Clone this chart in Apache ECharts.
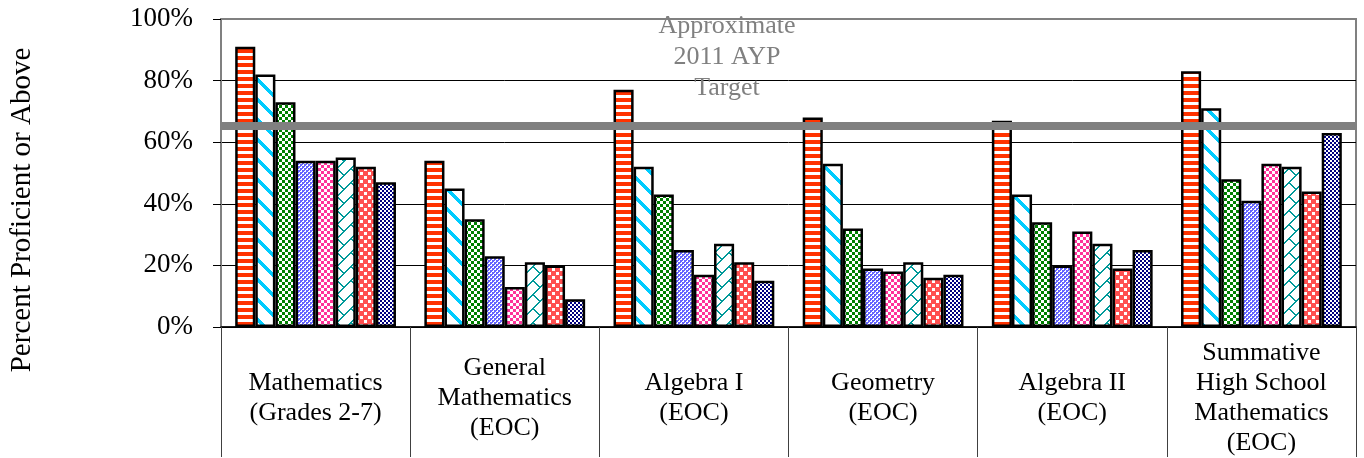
<!DOCTYPE html>
<html>
<head>
<meta charset="utf-8">
<title>Percent Proficient or Above</title>
<script src="https://cdn.jsdelivr.net/npm/echarts@6/dist/echarts.min.js"></script>
<style>
  html, body { margin: 0; padding: 0; background: #fff; }
  #chart { width: 1364px; height: 458px; }
</style>
</head>
<body>
<div id="chart"></div>
<script>
// categories and values
const categories = [
  'Mathematics\n(Grades 2-7)',
  'General\nMathematics\n(EOC)',
  'Algebra I\n(EOC)',
  'Geometry\n(EOC)',
  'Algebra II\n(EOC)',
  'Summative\nHigh School\nMathematics\n(EOC)'
];
const group1 = [91, 54, 77, 68, 67, 83];
const group2 = [82, 45, 52, 53, 43, 71];
const group3 = [73, 35, 43, 32, 34, 48];
const group4 = [54, 23, 25, 19, 20, 41];
const group5 = [54, 13, 17, 18, 31, 53];
const group6 = [55, 21, 27, 21, 27, 52];
const group7 = [52, 20, 21, 16, 19, 44];
const group8 = [47, 9, 15, 17, 25, 63];
const aypTarget = 65.5;
const aypLabel = 'Approximate\n2011 AYP\nTarget';
const yAxisTitle = 'Percent Proficient or Above';

const FONT = '"Liberation Serif", "Times New Roman", serif';

// build a small pixel tile, test(x, y) says if the pixel takes the colour
const makeTile = (w, h, color, test) => {
  const c = document.createElement('canvas');
  c.width = w;
  c.height = h;
  const ctx = c.getContext('2d');
  ctx.fillStyle = '#fff';
  ctx.fillRect(0, 0, w, h);
  ctx.fillStyle = color;
  for (let y = 0; y < h; y++) {
    for (let x = 0; x < w; x++) {
      if (test(x, y)) ctx.fillRect(x, y, 1, 1);
    }
  }
  return { image: c, repeat: 'repeat' };
};

const patterns = [
  makeTile(4, 7, '#FF3300', (x, y) => y < 4),
  makeTile(20, 20, '#00CCFF', (x, y) => ((y - x) % 20 + 20) % 20 < 5),
  makeTile(6, 6, '#008000', (x, y) => (Math.floor(x / 3) + Math.floor(y / 3)) % 2 === 0),
  makeTile(4, 4, '#6666FF', (x, y) => (Math.floor(x / 2) + Math.floor(y / 2)) % 2 === 0 || (x % 2 === 0 && y % 2 === 0)),
  makeTile(6, 6, '#FF3399', (x, y) => (Math.floor(x / 3) + Math.floor(y / 3)) % 2 === 0),
  // zigzag trellis
  makeTile(14, 14, '#009999', (x, y) => (x + y) % 14 < 2 || (y < 7 && ((x - y) % 14 + 14) % 14 < 2)),
  makeTile(8, 8, '#FF5050', (x, y) => !((x < 3 && y >= 4 && y < 7) || (x >= 4 && x < 7 && y < 3))),
  makeTile(4, 4, '#000080', (x, y) => (Math.floor(x / 2) + Math.floor(y / 2)) % 2 === 0)
];

const groups = [group1, group2, group3, group4, group5, group6, group7, group8];

const series = groups.map((data, i) => {
  const s = {
    name: 'Group ' + (i + 1),
    type: 'bar',
    data: data,
    barGap: '0%',
    barCategoryGap: '15%',
    itemStyle: {
      color: patterns[i],
      borderColor: '#000',
      borderWidth: 2.5
    },
    emphasis: { disabled: true }
  };
  if (i === 0) {
    s.markLine = {
      silent: true,
      symbol: 'none',
      label: { show: false },
      lineStyle: { color: '#808080', width: 8, type: 'solid' },
      data: [{ yAxis: aypTarget }],
      z: 10
    };
  }
  return s;
});

const chart = echarts.init(document.getElementById('chart'));
chart.setOption({
  animation: false,
  grid: {
    left: 221,
    right: 8,
    top: 19,
    bottom: 130,
    show: true,
    borderColor: '#808080',
    borderWidth: 2
  },
  xAxis: {
    type: 'category',
    data: categories,
    axisLine: { lineStyle: { color: '#000', width: 1.5 } },
    axisTick: { show: true, interval: 0, length: 130, lineStyle: { color: '#404040', width: 1 } },
    axisLabel: {
      interval: 0,
      margin: 71,
      verticalAlign: 'middle',
      color: '#000',
      fontFamily: FONT,
      fontSize: 26,
      lineHeight: 30
    }
  },
  yAxis: {
    type: 'value',
    min: 0,
    max: 100,
    interval: 20,
    axisLine: { show: true, lineStyle: { color: '#808080', width: 2 } },
    axisTick: { show: true, length: 8, lineStyle: { color: '#000' } },
    axisLabel: {
      formatter: '{value}%',
      margin: 28,
      color: '#000',
      fontFamily: FONT,
      fontSize: 27
    },
    splitLine: {
      show: true,
      lineStyle: { color: ['#000', '#000', '#000', '#000', '#000', '#808080'], width: 1 }
    }
  },
  graphic: [
    {
      type: 'text',
      x: 727,
      y: 57,
      z: 5,
      style: {
        text: aypLabel,
        fill: '#808080',
        font: '26px ' + FONT,
        align: 'center',
        verticalAlign: 'middle',
        lineHeight: 31
      }
    },
    {
      type: 'text',
      x: 22,
      y: 210,
      rotation: Math.PI / 2,
      style: {
        text: yAxisTitle,
        fill: '#000',
        font: '29px ' + FONT,
        align: 'center',
        verticalAlign: 'middle'
      }
    }
  ],
  series: series
});
</script>
</body>
</html>
